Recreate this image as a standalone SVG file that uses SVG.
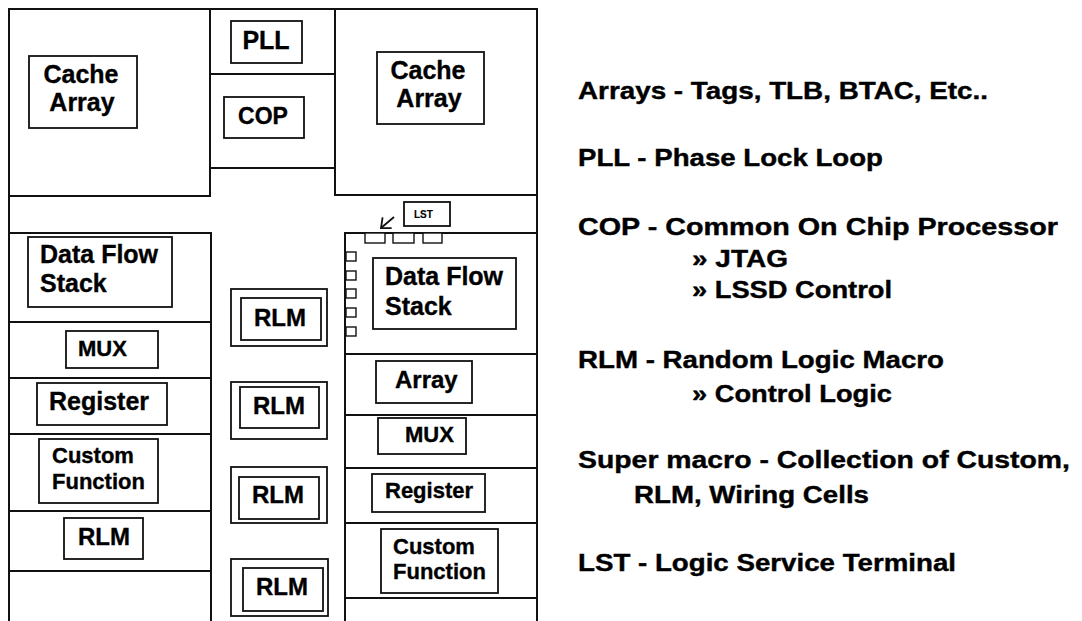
<svg xmlns="http://www.w3.org/2000/svg" width="1082" height="621" viewBox="0 0 1082 621">
  <style>
    .wall { stroke: #111; stroke-width: 2; fill: none; }
    .box { stroke: #111; stroke-width: 1.8; fill: #fff; }
    .pad { stroke: #111; stroke-width: 1.4; fill: #fff; }
    .lbl { font-family: "Liberation Sans", Arial, Helvetica, sans-serif; font-weight: bold; fill: #000; stroke: #000; stroke-width: 0.35; }
    .f25 { font-size: 25px; }
    .f24 { font-size: 24px; }
    .f23 { font-size: 23px; }
    .f22 { font-size: 22px; }
    .f10 { font-size: 10px; stroke-width: 0.15; }
    .mid { text-anchor: middle; }
    .note { font-family: "Liberation Sans", Arial, Helvetica, sans-serif; font-weight: bold; font-size: 24.5px; fill: #000; stroke: #000; stroke-width: 0.4; }
  </style>
  <defs>
    <marker id="chev" markerUnits="userSpaceOnUse" markerWidth="12" markerHeight="16" viewBox="-9 -8 11 16" refX="0" refY="0" orient="auto">
      <path d="M-8,-7 L0,0 L-8,7" fill="none" stroke="#111" stroke-width="1.8"/>
    </marker>
  </defs>
  <rect x="0" y="0" width="1082" height="621" fill="#fff"/>

  <!-- floorplan partition lines -->
  <g id="floorplan">
    <path class="wall" d="M9,621 V9 H537 V621"/>
    <!-- top band: cache blocks and PLL/COP strip -->
    <path class="wall" d="M210,9 V196 H9"/>
    <path class="wall" d="M335,9 V195 H537"/>
    <path class="wall" d="M210,74 H335 M210,168 H335"/>
    <!-- left macro column -->
    <path class="wall" d="M9,233 H211 V621"/>
    <path class="wall" d="M9,322 H211 M9,378 H211 M9,434 H211 M9,511 H211 M9,571 H211"/>
    <!-- right macro column -->
    <path class="wall" d="M345,621 V233 H537"/>
    <path class="wall" d="M345,354 H537 M345,415 H537 M345,468 H537 M345,523 H537 M345,598 H537"/>
  </g>

  <!-- top band -->
  <g id="cache-left">
    <rect class="box" x="29" y="56" width="108" height="72"/>
    <text class="lbl f25 mid" x="81" y="83">Cache</text>
    <text class="lbl f25 mid" x="82" y="111">Array</text>
  </g>
  <g id="pll">
    <rect class="box" x="231" y="21" width="71" height="42"/>
    <text class="lbl f25 mid" x="266" y="49">PLL</text>
  </g>
  <g id="cop">
    <rect class="box" x="224" y="97" width="80" height="41"/>
    <text class="lbl f23 mid" x="263" y="124">COP</text>
  </g>
  <g id="cache-right">
    <rect class="box" x="377" y="52" width="107" height="72"/>
    <text class="lbl f25 mid" x="428" y="79">Cache</text>
    <text class="lbl f25 mid" x="429" y="107">Array</text>
  </g>

  <!-- left column macros -->
  <g id="dfs-left">
    <rect class="box" x="28" y="237" width="144" height="70"/>
    <text class="lbl f25" x="40" y="263">Data Flow</text>
    <text class="lbl f25" x="40" y="292">Stack</text>
  </g>
  <g id="mux-left">
    <rect class="box" x="66" y="331" width="92" height="37"/>
    <text class="lbl f22" x="78" y="356">MUX</text>
  </g>
  <g id="register-left">
    <rect class="box" x="37" y="383" width="130" height="42"/>
    <text class="lbl f25" x="49" y="410">Register</text>
  </g>
  <g id="custom-left">
    <rect class="box" x="39" y="439" width="119" height="64"/>
    <text class="lbl f22" x="52" y="463">Custom</text>
    <text class="lbl f22" x="52" y="489">Function</text>
  </g>
  <g id="rlm-left">
    <rect class="box" x="64" y="518" width="79" height="41"/>
    <text class="lbl f24" x="78" y="545">RLM</text>
  </g>

  <!-- middle column: double-outlined RLMs -->
  <g id="rlm-1">
    <rect class="box" x="231" y="289" width="96" height="57"/>
    <rect class="box" x="241" y="298" width="80" height="42"/>
    <text class="lbl f24" x="254" y="326">RLM</text>
  </g>
  <g id="rlm-2">
    <rect class="box" x="231" y="382" width="96" height="57"/>
    <rect class="box" x="240" y="387" width="79" height="41"/>
    <text class="lbl f24" x="253" y="414">RLM</text>
  </g>
  <g id="rlm-3">
    <rect class="box" x="231" y="467" width="96" height="56"/>
    <rect class="box" x="239" y="477" width="80" height="42"/>
    <text class="lbl f24" x="252" y="503">RLM</text>
  </g>
  <g id="rlm-4">
    <rect class="box" x="231" y="559" width="97" height="57"/>
    <rect class="box" x="243" y="568" width="80" height="43"/>
    <text class="lbl f24" x="256" y="595">RLM</text>
  </g>

  <!-- right column macros -->
  <g id="lst">
    <rect class="box" x="404" y="202" width="46" height="24"/>
    <text class="lbl f10" x="414" y="218">LST</text>
  </g>
  <g id="lst-pads">
    <rect class="pad" x="365" y="233" width="20" height="10"/>
    <rect class="pad" x="393" y="233" width="21" height="10"/>
    <rect class="pad" x="423" y="233" width="19" height="10"/>
    <rect class="pad" x="346" y="252" width="10" height="9"/>
    <rect class="pad" x="346" y="271" width="10" height="9"/>
    <rect class="pad" x="346" y="289" width="10" height="9"/>
    <rect class="pad" x="346" y="308" width="10" height="9"/>
    <rect class="pad" x="346" y="327" width="10" height="9"/>
  </g>
  <g id="dfs-right">
    <rect class="box" x="373" y="258" width="143" height="71"/>
    <text class="lbl f25" x="385" y="285">Data Flow</text>
    <text class="lbl f25" x="385" y="315">Stack</text>
  </g>
  <g id="array-right">
    <rect class="box" x="376" y="361" width="96" height="42"/>
    <text class="lbl f24" x="395" y="388">Array</text>
  </g>
  <g id="mux-right">
    <rect class="box" x="378" y="418" width="88" height="36"/>
    <text class="lbl f22" x="405" y="442">MUX</text>
  </g>
  <g id="register-right">
    <rect class="box" x="372" y="474" width="113" height="38"/>
    <text class="lbl f22" x="385" y="498">Register</text>
  </g>
  <g id="custom-right">
    <rect class="box" x="381" y="529" width="117" height="64"/>
    <text class="lbl f22" x="393" y="554">Custom</text>
    <text class="lbl f22" x="393" y="579">Function</text>
  </g>

  <g id="connectors">
    <line x1="394" y1="217" x2="381" y2="228" stroke="#111" stroke-width="1.8" marker-end="url(#chev)"/>
  </g>

  <!-- legend -->
  <g id="legend">
    <text class="note" x="578" y="99" textLength="410" lengthAdjust="spacingAndGlyphs">Arrays - Tags, TLB, BTAC, Etc..</text>
    <text class="note" x="578" y="166" textLength="305" lengthAdjust="spacingAndGlyphs">PLL - Phase Lock Loop</text>
    <text class="note" x="578" y="235" textLength="480" lengthAdjust="spacingAndGlyphs">COP - Common On Chip Processor</text>
    <text class="note" x="692" y="267" textLength="96" lengthAdjust="spacingAndGlyphs">» JTAG</text>
    <text class="note" x="692" y="298" textLength="200" lengthAdjust="spacingAndGlyphs">» LSSD Control</text>
    <text class="note" x="578" y="368" textLength="366" lengthAdjust="spacingAndGlyphs">RLM - Random Logic Macro</text>
    <text class="note" x="692" y="402" textLength="200" lengthAdjust="spacingAndGlyphs">» Control Logic</text>
    <text class="note" x="578" y="468" textLength="492" lengthAdjust="spacingAndGlyphs">Super macro - Collection of Custom,</text>
    <text class="note" x="634" y="503" textLength="235" lengthAdjust="spacingAndGlyphs">RLM, Wiring Cells</text>
    <text class="note" x="578" y="571" textLength="378" lengthAdjust="spacingAndGlyphs">LST - Logic Service Terminal</text>
  </g>
</svg>
